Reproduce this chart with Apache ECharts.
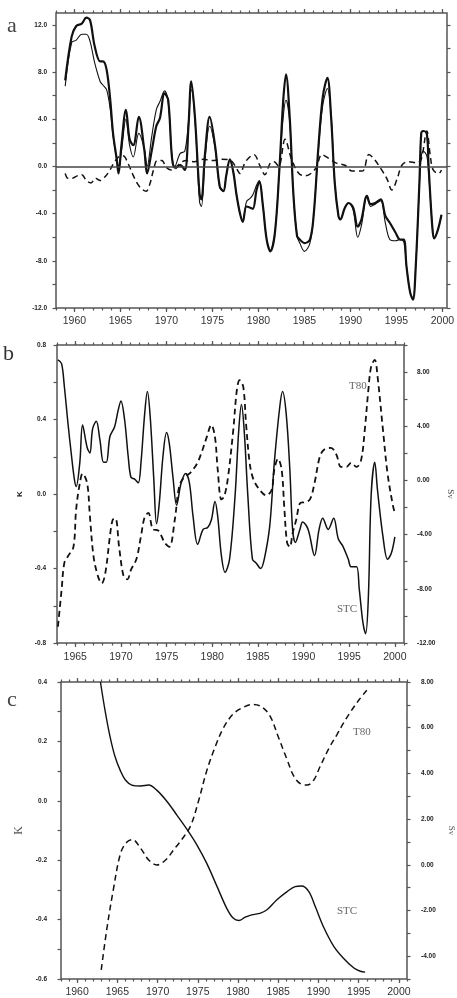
<!DOCTYPE html>
<html>
<head>
<meta charset="utf-8">
<script src="https://cdn.jsdelivr.net/npm/echarts@6/dist/echarts.min.js"></script>
<style>
  html, body { margin: 0; padding: 0; background: #fff; }
  #chart { width: 457px; height: 998px; }
</style>
</head>
<body>
<div id="chart"></div>
<script>
// ---- panel a : [year, value] ----
const aThick = [
  [1959.0, 7.3], [1959.7, 11.0], [1960.2, 11.9], [1960.8, 12.1], [1961.3, 12.6], [1961.7, 12.4],
  [1962.2, 10.2], [1962.8, 8.9], [1963.1, 8.9], [1963.5, 8.2], [1963.9, 5.6], [1964.2, 2.8],
  [1964.6, 0.6], [1964.8, -0.6], [1965.1, 1.7], [1965.6, 4.8], [1966.0, 2.3], [1966.4, 1.8],
  [1967.0, 4.2], [1967.6, 1.4], [1967.9, -0.6], [1968.4, 1.3], [1968.9, 3.4], [1969.3, 4.1],
  [1969.8, 6.2], [1970.2, 5.6], [1970.6, 0.8], [1970.9, -0.1], [1971.5, 0.1], [1972.0, -0.3],
  [1972.4, 3.4], [1972.7, 7.2], [1973.1, 4.2], [1973.6, -2.3], [1973.8, -2.8], [1974.2, 1.1],
  [1974.7, 4.2], [1975.3, 1.7], [1975.8, -1.7], [1976.2, -2.1], [1976.5, -0.8], [1976.9, 0.6],
  [1977.3, -0.6], [1977.6, -2.3], [1978.0, -4.0], [1978.3, -4.7], [1978.7, -3.4], [1979.1, -3.5],
  [1979.4, -3.6], [1979.8, -2.0], [1980.1, -1.3], [1980.5, -3.4], [1980.9, -6.2], [1981.3, -7.2],
  [1981.8, -5.6], [1982.3, 0.0], [1982.7, 5.6], [1983.0, 7.8], [1983.4, 4.2], [1983.8, -2.3],
  [1984.2, -5.9], [1984.5, -6.2], [1985.0, -6.5], [1985.6, -6.2], [1986.0, -4.2], [1986.5, 1.4],
  [1987.0, 5.9], [1987.5, 7.5], [1987.9, 4.2], [1988.3, -1.4], [1988.7, -4.2], [1988.9, -4.5],
  [1989.4, -3.5], [1989.8, -3.1], [1990.3, -3.5], [1990.8, -5.1], [1991.2, -4.5], [1991.8, -2.5],
  [1992.2, -3.2], [1992.7, -3.1], [1993.3, -2.8], [1993.8, -4.2], [1994.3, -4.8], [1994.9, -5.6],
  [1995.4, -6.2], [1995.8, -6.2], [1996.1, -8.5], [1996.5, -10.7], [1996.8, -11.3], [1997.1, -8.5],
  [1997.5, -1.4], [1997.7, 2.8], [1997.9, 3.0], [1998.3, 2.8], [1998.5, 0.0], [1998.9, -5.1],
  [1999.1, -6.1], [1999.5, -5.4], [1999.9, -4.1]
];
const aThin = [
  [1959.0, 6.8], [1959.7, 10.5], [1960.2, 10.7], [1960.8, 11.2], [1961.3, 11.2], [1961.7, 10.6],
  [1962.2, 8.8], [1962.8, 7.2], [1963.1, 6.9], [1963.5, 6.5], [1963.9, 4.8], [1964.2, 2.6],
  [1964.6, 0.6], [1964.8, 0.0], [1965.1, 1.2], [1965.6, 4.0], [1966.0, 1.8], [1966.4, 0.8],
  [1967.0, 2.8], [1967.6, 1.5], [1967.9, 0.0], [1968.4, 2.5], [1968.9, 4.8], [1969.3, 5.5],
  [1969.8, 6.4], [1970.2, 5.4], [1970.6, 1.0], [1970.9, 0.0], [1971.5, 1.1], [1972.0, 1.3],
  [1972.4, 3.8], [1972.7, 6.5], [1973.1, 4.0], [1973.6, -3.0], [1973.8, -3.4], [1974.2, 0.6],
  [1974.7, 3.4], [1975.3, 1.5], [1975.8, -1.8], [1976.2, -2.1], [1976.5, -0.8], [1976.9, 0.5],
  [1977.3, -0.6], [1977.6, -2.3], [1978.0, -4.0], [1978.3, -4.6], [1978.7, -3.0], [1979.1, -2.7],
  [1979.4, -2.4], [1979.8, -1.6], [1980.1, -1.2], [1980.5, -3.4], [1980.9, -6.2], [1981.3, -7.1],
  [1981.8, -5.6], [1982.3, 0.0], [1982.7, 4.2], [1983.0, 5.6], [1983.4, 3.8], [1983.8, -2.3],
  [1984.2, -5.9], [1984.5, -6.5], [1985.0, -7.2], [1985.6, -6.5], [1986.0, -4.2], [1986.5, 1.2],
  [1987.0, 5.2], [1987.5, 6.6], [1987.9, 4.4], [1988.3, -1.4], [1988.7, -4.2], [1988.9, -4.5],
  [1989.4, -3.5], [1989.8, -3.1], [1990.3, -3.7], [1990.8, -6.0], [1991.2, -5.0], [1991.8, -2.5],
  [1992.2, -3.4], [1992.7, -3.2], [1993.3, -2.9], [1993.8, -4.8], [1994.3, -6.2], [1994.9, -6.3],
  [1995.4, -6.2], [1995.8, -6.4], [1996.1, -8.5], [1996.5, -10.7], [1996.8, -11.2], [1997.1, -8.5],
  [1997.5, -1.6], [1997.7, 0.8], [1997.9, 1.3], [1998.3, 0.9], [1998.5, -0.5], [1998.9, -5.0],
  [1999.1, -6.1], [1999.5, -5.4], [1999.9, -4.1]
];
const aDash = [
  [1959.0, -0.6], [1959.3, -1.0], [1959.8, -1.0], [1960.3, -0.8], [1960.8, -0.7], [1961.3, -1.2],
  [1961.8, -1.4], [1962.3, -1.0], [1962.8, -1.2], [1963.3, -0.9], [1963.8, -0.4], [1964.3, 0.3],
  [1964.8, 0.8], [1965.3, 0.9], [1965.8, 0.3], [1966.3, -0.6], [1966.8, -1.4], [1967.3, -1.9],
  [1967.8, -2.1], [1968.2, -1.5], [1968.6, -0.3], [1969.0, 0.5], [1969.5, 0.5], [1970.0, -0.1],
  [1970.5, -0.3], [1971.0, -0.2], [1971.5, 0.3], [1972.2, 0.5], [1973.0, 0.4], [1974.0, 0.6],
  [1975.0, 0.5], [1976.0, 0.6], [1977.0, 0.5], [1977.5, 0.0], [1978.0, -0.6], [1978.6, 0.4],
  [1979.5, 1.0], [1980.2, 0.0], [1980.7, -0.7], [1981.3, 0.3], [1981.7, 0.4], [1982.2, 0.0],
  [1982.9, 2.3], [1983.6, 0.6], [1984.4, -0.6], [1985.1, -0.8], [1986.2, -0.2], [1986.9, 1.0],
  [1987.6, 0.7], [1988.4, 0.3], [1989.4, 0.1], [1990.2, -0.4], [1991.3, -0.4], [1992.0, 1.0],
  [1992.5, 0.7], [1993.4, -0.3], [1994.0, -1.1], [1994.5, -2.0], [1995.1, -1.0], [1995.6, 0.1],
  [1996.3, 0.4], [1997.2, 0.3], [1997.7, 0.6], [1998.3, 3.0], [1998.7, 0.8], [1999.0, -0.3],
  [1999.6, -0.6], [1999.9, -0.3]
];

// ---- panel b : STC in K (left), T80 in Sv (right) ----
const bStc = [
  [1963.1, 0.72], [1963.5, 0.70], [1963.8, 0.58], [1964.2, 0.38], [1964.6, 0.20], [1964.9, 0.08],
  [1965.1, 0.04], [1965.5, 0.17], [1965.8, 0.37], [1966.3, 0.25], [1966.6, 0.22], [1966.9, 0.35],
  [1967.3, 0.39], [1967.7, 0.29], [1968.1, 0.17], [1968.4, 0.17], [1968.8, 0.31], [1969.3, 0.36],
  [1969.7, 0.45], [1970.0, 0.50], [1970.4, 0.40], [1970.8, 0.20], [1971.1, 0.09], [1971.5, 0.08],
  [1971.9, 0.06], [1972.2, 0.17], [1972.6, 0.43], [1972.9, 0.55], [1973.2, 0.42], [1973.6, 0.08],
  [1973.9, -0.16], [1974.2, -0.05], [1974.6, 0.20], [1975.0, 0.33], [1975.3, 0.27], [1975.7, 0.09],
  [1976.1, -0.06], [1976.6, 0.06], [1977.1, 0.11], [1977.5, 0.06], [1977.9, -0.12], [1978.4, -0.27],
  [1979.0, -0.19], [1979.5, -0.18], [1979.9, -0.14], [1980.3, -0.04], [1980.6, -0.12], [1981.0, -0.33],
  [1981.4, -0.42], [1981.9, -0.35], [1982.5, -0.01], [1982.9, 0.34], [1983.2, 0.48], [1983.5, 0.34],
  [1983.9, -0.01], [1984.4, -0.35], [1984.8, -0.37], [1985.3, -0.40], [1985.7, -0.35], [1986.3, -0.17],
  [1986.8, 0.17], [1987.4, 0.47], [1987.7, 0.55], [1988.1, 0.43], [1988.5, 0.13], [1988.8, -0.19],
  [1989.1, -0.26], [1989.6, -0.19], [1989.9, -0.15], [1990.5, -0.19], [1991.2, -0.33], [1991.7, -0.19],
  [1992.1, -0.13], [1992.7, -0.19], [1993.3, -0.13], [1993.8, -0.24], [1994.3, -0.28], [1994.9, -0.35],
  [1995.2, -0.39], [1995.8, -0.39], [1996.1, -0.51], [1996.5, -0.69], [1996.8, -0.75], [1997.1, -0.55],
  [1997.4, -0.01], [1997.8, 0.17], [1998.1, 0.02], [1998.7, -0.23], [1999.2, -0.35], [1999.6, -0.32],
  [2000.0, -0.23]
];
const bT80 = [
  [1963.1, -10.8], [1963.5, -8.1], [1963.8, -6.1], [1964.2, -5.6], [1964.8, -4.9], [1965.1, -2.1],
  [1965.5, -0.2], [1965.8, 0.5], [1966.3, -0.2], [1966.6, -2.6], [1967.0, -5.6], [1967.5, -7.1],
  [1967.9, -7.6], [1968.3, -6.8], [1968.8, -4.1], [1969.1, -2.9], [1969.4, -2.8], [1969.8, -4.9],
  [1970.3, -7.1], [1970.7, -7.3], [1971.1, -6.6], [1971.7, -5.8], [1972.2, -4.1], [1972.6, -2.7],
  [1973.0, -2.4], [1973.5, -3.6], [1974.1, -3.7], [1974.8, -4.6], [1975.3, -4.9], [1975.9, -2.9],
  [1976.4, -0.4], [1977.0, 0.3], [1977.5, 0.5], [1978.3, 1.2], [1978.8, 2.0], [1979.4, 3.2],
  [1979.9, 4.1], [1980.3, 3.2], [1980.6, 0.8], [1981.0, -1.4], [1981.3, -1.2], [1981.7, 0.1],
  [1982.3, 3.7], [1982.7, 6.7], [1983.0, 7.4], [1983.4, 6.9], [1983.7, 4.2], [1984.1, 1.3],
  [1984.5, 0.1], [1985.2, -0.7], [1985.9, -1.1], [1986.5, -0.7], [1986.8, 0.8], [1987.2, 1.6],
  [1987.6, 0.8], [1987.9, -2.1], [1988.2, -4.6], [1988.5, -4.9], [1988.8, -3.9], [1989.2, -2.9],
  [1989.6, -1.7], [1990.1, -1.6], [1990.7, -1.4], [1991.2, -0.2], [1991.8, 1.8], [1992.3, 2.3],
  [1993.0, 2.4], [1993.6, 1.9], [1994.1, 1.0], [1994.7, 1.0], [1995.2, 1.3], [1995.8, 1.0],
  [1996.3, 1.5], [1996.7, 3.7], [1997.1, 6.7], [1997.4, 8.4], [1997.8, 8.9], [1998.1, 7.7],
  [1998.7, 3.7], [1999.2, 0.5], [1999.8, -1.9], [2000.0, -2.4]
];

// ---- panel c : trends ----
const cStc = [
  [1962.9, 0.40], [1963.5, 0.30], [1964.1, 0.215], [1964.7, 0.15], [1965.4, 0.10], [1966.0, 0.07],
  [1966.8, 0.053], [1967.9, 0.05], [1968.9, 0.053], [1969.9, 0.036], [1971.2, -0.003], [1972.4, -0.048],
  [1973.7, -0.098], [1974.9, -0.149], [1976.1, -0.21], [1977.4, -0.289], [1978.6, -0.362], [1979.4, -0.395],
  [1980.1, -0.403], [1980.9, -0.392], [1981.7, -0.384], [1982.8, -0.378], [1983.6, -0.367], [1984.8, -0.334],
  [1986.1, -0.306], [1987.1, -0.289], [1987.9, -0.287], [1988.8, -0.306], [1989.6, -0.356], [1990.6, -0.423],
  [1991.9, -0.49], [1993.1, -0.53], [1994.4, -0.563], [1995.2, -0.574], [1995.8, -0.577]
];
const cT80 = [
  [1963.0, -4.6], [1963.7, -2.8], [1964.5, -1.1], [1965.4, 0.5], [1966.2, 1.0], [1966.9, 1.1],
  [1967.9, 0.72], [1968.9, 0.21], [1969.9, -0.01], [1971.0, 0.21], [1972.0, 0.65], [1973.0, 1.1],
  [1974.1, 1.7], [1975.1, 2.8], [1976.1, 4.1], [1977.2, 5.2], [1978.2, 6.0], [1979.4, 6.6],
  [1980.7, 6.9], [1981.9, 7.02], [1983.0, 6.9], [1984.0, 6.5], [1985.0, 5.6], [1986.1, 4.6],
  [1986.9, 3.9], [1987.7, 3.56], [1988.6, 3.49], [1989.4, 3.7], [1990.2, 4.3], [1991.3, 5.1],
  [1992.3, 5.7], [1993.1, 6.2], [1994.0, 6.7], [1995.0, 7.2], [1996.0, 7.64]
];

// ---- tick values ----
const yearLabels = [1960, 1965, 1970, 1975, 1980, 1985, 1990, 1995, 2000];
const yearLabelsB = [1965, 1970, 1975, 1980, 1985, 1990, 1995, 2000];
const yearsA = [];
for (let y = 1958; y <= 2000; y++) yearsA.push(y);
const yearsB = [];
for (let y = 1963; y <= 2001; y++) yearsB.push(y);
const yearsC = [];
for (let y = 1958; y <= 2001; y++) yearsC.push(y);

const aYLabels = [-12, -8, -4, 0, 4, 8, 12];
const aYTicks = [-12, -10, -8, -6, -4, -2, 0, 2, 4, 6, 8, 10, 12];
const bKLabels = [-0.8, -0.4, 0, 0.4, 0.8];
const bKTicks = [-0.8, -0.6, -0.4, -0.2, 0, 0.2, 0.4, 0.6, 0.8];
const bSvLabels = [-12, -8, -4, 0, 4, 8];
const bSvTicks = [-12, -10, -8, -6, -4, -2, 0, 2, 4, 6, 8, 10];
const cKLabels = [-0.6, -0.4, -0.2, 0, 0.2, 0.4];
const cKTicks = [-0.6, -0.5, -0.4, -0.3, -0.2, -0.1, 0, 0.1, 0.2, 0.3, 0.4];
const cSvLabels = [-4, -2, 0, 2, 4, 6, 8];
const cSvTicks = [-5, -4, -3, -2, -1, 0, 1, 2, 3, 4, 5, 6, 7, 8];

const frame = "#555";
const tickStyle = { color: frame, width: 1.2 };
const xLabelStyle = { color: "#333", fontSize: 10.5, fontFamily: "Liberation Sans, Arial, sans-serif" };
const yLabelStyle = { color: "#222", fontSize: 6.5, fontWeight: "bold", fontFamily: "Liberation Sans, Arial, sans-serif" };

function xAxisSet(grid, min, max, labels, minors, margin) {
  const base = {
    type: "value", gridIndex: grid, min: min, max: max,
    splitLine: { show: false }, axisLine: { show: false, onZero: false }
  };
  return [
    Object.assign({}, base, {
      position: "bottom",
      axisTick: { show: true, customValues: labels, length: 4, lineStyle: tickStyle },
      axisLabel: Object.assign({ customValues: labels, margin: margin, formatter: v => String(v) }, xLabelStyle)
    }),
    Object.assign({}, base, {
      position: "bottom",
      axisTick: { show: true, customValues: minors, length: 2.5, lineStyle: tickStyle },
      axisLabel: { show: false }
    }),
    Object.assign({}, base, {
      position: "top",
      axisTick: { show: true, customValues: labels, length: 4, lineStyle: tickStyle },
      axisLabel: { show: false }
    }),
    Object.assign({}, base, {
      position: "top",
      axisTick: { show: true, customValues: minors, length: 2.5, lineStyle: tickStyle },
      axisLabel: { show: false }
    })
  ];
}

function yAxis(grid, pos, min, max, labels, ticks, digits, margin, extra) {
  const ax = {
    type: "value", gridIndex: grid, position: pos, min: min, max: max,
    splitLine: { show: false }, axisLine: { show: false, onZero: false },
    axisTick: { show: true, customValues: ticks, length: 3.5, lineStyle: tickStyle },
    axisLabel: labels ? Object.assign({
      customValues: labels, margin: margin,
      formatter: v => Number(v).toFixed(digits)
    }, yLabelStyle) : { show: false }
  };
  return Object.assign(ax, extra || {});
}

const gridBase = { show: true, borderColor: frame, borderWidth: 1.5, backgroundColor: "transparent", containLabel: false, outerBoundsMode: "none" };

function line(xi, yi, data, width, dashed) {
  return {
    type: "line", xAxisIndex: xi, yAxisIndex: yi, data: data,
    showSymbol: false, smooth: 0.35, silent: true,
    lineStyle: { color: "#111", width: width, type: dashed ? [6, 4] : "solid" }
  };
}

const serif = "Liberation Serif, DejaVu Serif, serif";
function note(text, left, top, size, color) {
  return { type: "text", left: left, top: top, silent: true,
    style: { text: text, font: size + "px " + serif, fill: color } };
}

const chart = echarts.init(document.getElementById("chart"), null, { renderer: "canvas" });

const dashA = line(0, 0, aDash, 1.5, true);
dashA.markLine = {
  silent: true, symbol: "none", label: { show: false },
  lineStyle: { color: "#444", width: 1.5, type: "solid" },
  data: [{ yAxis: 0 }]
};

chart.setOption({
  animation: false,
  backgroundColor: "#fff",
  grid: [
    Object.assign({ left: 56, top: 13, width: 391, height: 295 }, gridBase),
    Object.assign({ left: 57, top: 345, width: 347, height: 298 }, gridBase),
    Object.assign({ left: 61, top: 682, width: 346, height: 297 }, gridBase)
  ],
  xAxis: [].concat(
    xAxisSet(0, 1958, 2000.5, yearLabels, yearsA, 8),
    xAxisSet(1, 1963, 2001, yearLabelsB, yearsB, 9),
    xAxisSet(2, 1958, 2001, yearLabels, yearsC, 8)
  ),
  yAxis: [
    yAxis(0, "left", -12, 13, aYLabels, aYTicks, 1, 9),
    yAxis(0, "right", -12, 13, null, aYTicks, 1, 0),
    yAxis(1, "left", -0.8, 0.8, bKLabels, bKTicks, 1, 11, {
      name: "K", nameLocation: "middle", nameGap: 33, nameRotate: 90,
      nameTextStyle: { color: "#222", fontSize: 8, fontWeight: "bold" }
    }),
    yAxis(1, "right", -12, 10, bSvLabels, bSvTicks, 2, 13, {
      name: "Sv", nameLocation: "middle", nameGap: 42, nameRotate: -90,
      nameTextStyle: { color: "#444", fontSize: 9, fontFamily: serif }
    }),
    yAxis(2, "left", -0.6, 0.4, cKLabels, cKTicks, 1, 14, {
      name: "K", nameLocation: "middle", nameGap: 27, nameRotate: 90,
      nameTextStyle: { color: "#555", fontSize: 12, fontFamily: serif }
    }),
    yAxis(2, "right", -5, 8, cSvLabels, cSvTicks, 2, 14, {
      name: "Sv", nameLocation: "middle", nameGap: 33, nameRotate: -90,
      nameTextStyle: { color: "#555", fontSize: 9, fontFamily: serif }
    })
  ],
  series: [
    dashA,
    line(0, 0, aThin, 1.1, false),
    line(0, 0, aThick, 2.2, false),
    line(4, 2, bStc, 1.5, false),
    line(4, 3, bT80, 1.8, true),
    line(8, 4, cStc, 1.4, false),
    line(8, 5, cT80, 1.5, true)
  ],
  graphic: [
    note("a", 7, 15, 22, "#444"),
    note("b", 3, 343, 22, "#333"),
    note("c", 7, 689, 22, "#444"),
    note("T80", 349, 381, 11, "#666"),
    note("STC", 337, 604, 11, "#666"),
    note("T80", 353, 727, 11, "#666"),
    note("STC", 337, 906, 11, "#666")
  ]
});
</script>
</body>
</html>
